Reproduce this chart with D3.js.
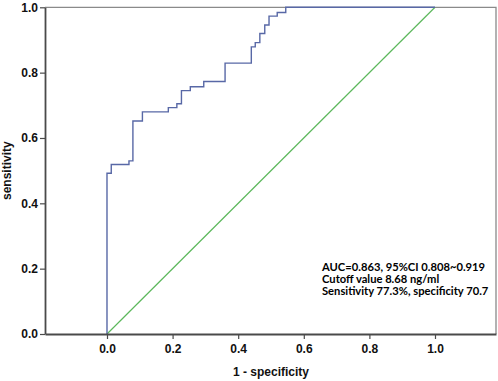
<!DOCTYPE html>
<html>
<head>
<meta charset="utf-8">
<script src="https://cdn.jsdelivr.net/npm/d3@7"></script>
<style>
  html, body { margin: 0; padding: 0; background: #fff; }
  svg { display: block; }
</style>
</head>
<body>
<svg id="chart" width="498" height="381"></svg>
<script>
// ROC curve (1 - specificity, sensitivity) step vertices
const fpr = [0, 0, 0.013, 0.013, 0.067, 0.067, 0.079, 0.079, 0.108, 0.108, 0.187, 0.187, 0.213, 0.213, 0.227, 0.227, 0.254, 0.254, 0.295, 0.295, 0.360, 0.360, 0.440, 0.440, 0.452, 0.452, 0.466, 0.466, 0.481, 0.481, 0.494, 0.494, 0.519, 0.519, 0.545, 0.545, 1.0];
const tpr = [0, 0.492, 0.492, 0.519, 0.519, 0.530, 0.530, 0.652, 0.652, 0.680, 0.680, 0.693, 0.693, 0.705, 0.705, 0.745, 0.745, 0.757, 0.757, 0.773, 0.773, 0.829, 0.829, 0.879, 0.879, 0.892, 0.892, 0.920, 0.920, 0.946, 0.946, 0.973, 0.973, 0.984, 0.984, 1.0, 1.0];
const refLine = [[0, 0], [1, 1]];
const xTicks = [0, 0.2, 0.4, 0.6, 0.8, 1.0];
const yTicks = [0, 0.2, 0.4, 0.6, 0.8, 1.0];
const annotation = [
  "AUC=0.863, 95%CI 0.808~0.919",
  "Cutoff value 8.68 ng/ml",
  "Sensitivity 77.3%, specificity 70.7"
];
const xTitle = "1 - specificity";
const yTitle = "sensitivity";

(function () {
const svg = d3.select("#chart");
const pL = 45, pR = 496, pT = 7.3, pB = 334;
const x = d3.scaleLinear().domain([-0.189, 1.186]).range([pL, pR]);
const y = d3.scaleLinear().domain([0, 1]).range([pB, pT]);

// frame (top & right)
svg.append("path")
  .attr("d", `M${pL},${pT}H${pR}V${pB}`)
  .attr("fill", "none").attr("stroke", "#8a8a8a").attr("stroke-width", 1.3);

// reference diagonal
svg.append("path")
  .datum(refLine)
  .attr("d", d3.line().x(d => x(d[0])).y(d => y(d[1])))
  .attr("fill", "none").attr("stroke", "#5cb85c").attr("stroke-width", 1.2);

// ROC curve
const pts = fpr.map((f, i) => [f, tpr[i]]);
svg.append("path")
  .datum(pts)
  .attr("d", d3.line().x(d => x(d[0])).y(d => y(d[1])))
  .attr("fill", "none").attr("stroke", "#5868a6").attr("stroke-width", 1.4);

// axes
const xAxis = svg.append("g").attr("transform", `translate(0,${pB})`)
  .call(d3.axisBottom(x).tickValues(xTicks).tickFormat(d3.format(".1f")).tickSize(5).tickSizeOuter(0));
const yAxis = svg.append("g").attr("transform", `translate(${pL},0)`)
  .call(d3.axisLeft(y).tickValues(yTicks).tickFormat(d3.format(".1f")).tickSize(5).tickSizeOuter(0));
[xAxis, yAxis].forEach(g => {
  g.select(".domain").attr("stroke", "#4a4a4a").attr("stroke-width", 1.8);
  g.selectAll(".tick line").attr("stroke", "#4a4a4a").attr("stroke-width", 1.2);
  g.selectAll(".tick text").attr("fill", "#111")
    .style("font-family", "'Liberation Sans', Arial, sans-serif")
    .style("font-size", "12px").style("font-weight", "bold");
});
xAxis.selectAll(".tick text").attr("dy", "0.71em").attr("y", 10);
yAxis.selectAll(".tick text").attr("x", -7);

// axis titles
svg.append("text").text(xTitle)
  .attr("x", (x(0) + x(1)) / 2).attr("y", 376)
  .attr("text-anchor", "middle").attr("fill", "#111")
  .style("font-family", "'Liberation Sans', Arial, sans-serif")
  .style("font-size", "12px").style("font-weight", "bold");
svg.append("text").text(yTitle)
  .attr("transform", `translate(11,${(pT + pB) / 2}) rotate(-90)`)
  .attr("text-anchor", "middle").attr("fill", "#111")
  .style("font-family", "'Liberation Sans', Arial, sans-serif")
  .style("font-size", "12px").style("font-weight", "bold");

// annotation
svg.append("g").selectAll("text").data(annotation).join("text")
  .text(d => d)
  .attr("x", 322).attr("y", (d, i) => 271.3 + i * 11.9)
  .attr("fill", "#000")
  .style("font-family", "Lato, 'Open Sans', sans-serif")
  .style("font-weight", "bold")
  .style("font-size", "11.2px");
})();
</script>
</body>
</html>
